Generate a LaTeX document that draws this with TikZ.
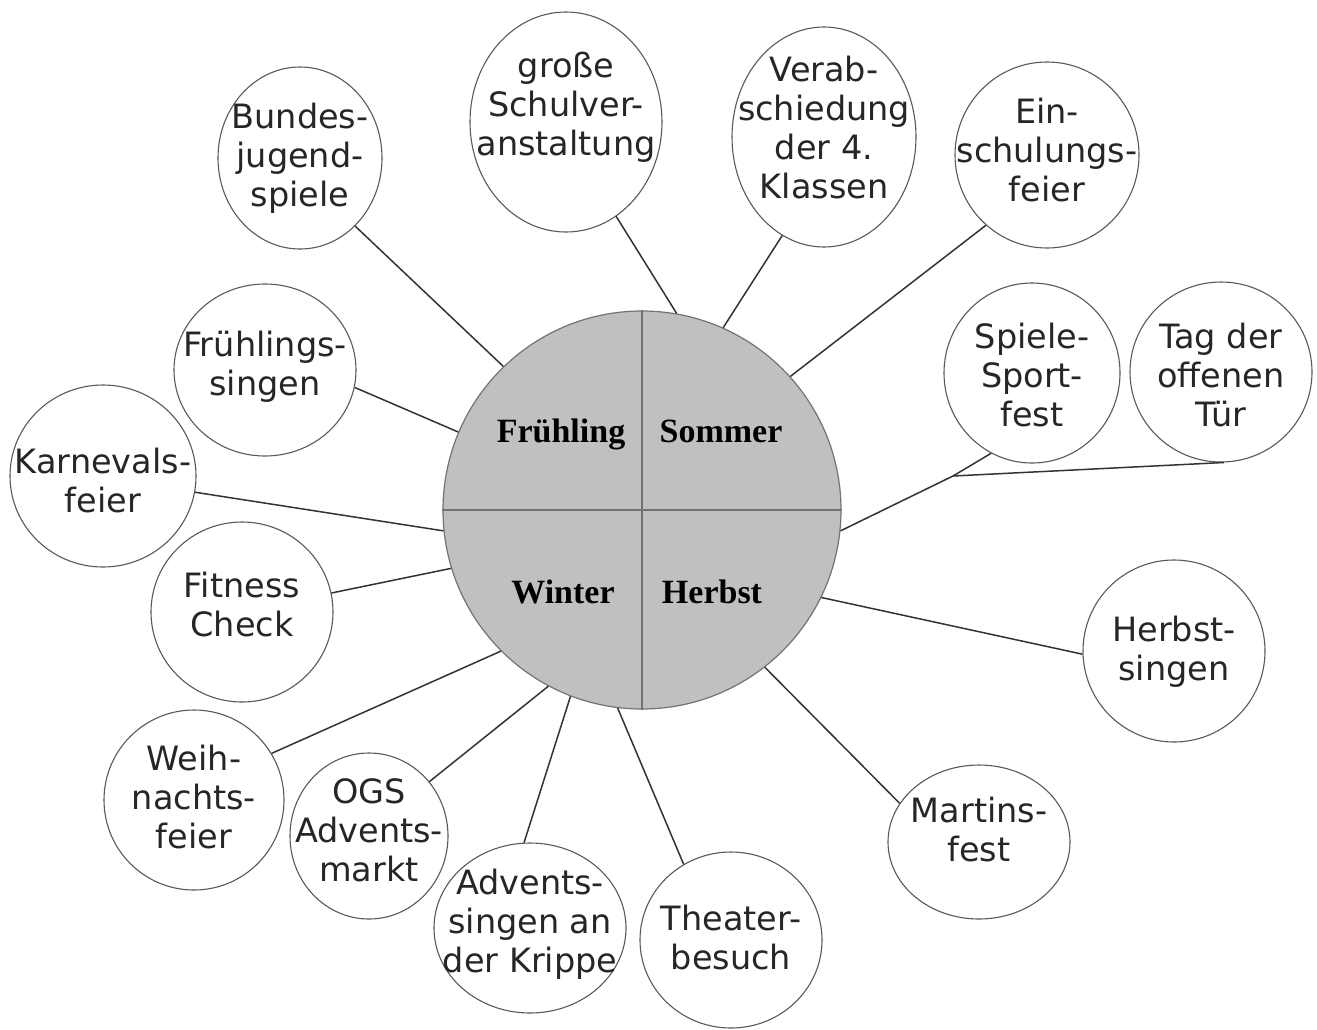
\documentclass[tikz,border=0pt]{standalone}
\usepackage{fontspec}
\usetikzlibrary{shapes.geometric}
\newfontfamily\bubfont{DejaVu Sans}
\newfontfamily\seasfont{Liberation Serif}
\definecolor{seasgray}{RGB}{192,192,192}
% text of a bubble: a box of no size, so the ellipse keeps its own size
\newcommand{\bubtxt}[2][0pt]{\makebox[0pt]{\raisebox{\dimexpr #1-8pt\relax}[0pt][0pt]{\begin{tabular}{@{}c@{}}#2\end{tabular}}}}
\tikzset{
  bubble/.style 2 args={ellipse, draw=black!65, line width=1.1pt, inner sep=0pt,
    minimum width=#1, minimum height=#2, text=black!85,
    font=\bubfont\fontsize{33.5}{39}\selectfont},
  seas/.style={anchor=base, text=black, font=\seasfont\bfseries\fontsize{34}{40}\selectfont},
  link/.style={draw=black!80, line width=1.5pt},
  quarter/.style={draw=black!55, line width=1.5pt}
}
\begin{document}
\begin{tikzpicture}[x=1pt,y=-1pt]
\path[use as bounding box, fill=white] (0,0) rectangle (1317,1029);

% middle: the four seasons
\node[circle, draw=black!55, line width=1.2pt, fill=seasgray, minimum size=398pt, inner sep=0pt] (season) at (642,510) {};
\draw[quarter] (season.north) -- (season.south);
\draw[quarter] (season.west) -- (season.east);
\node[seas] (fr) at (561,442) {Frühling};
\node[seas] (so) at (721,442) {Sommer};
\node[seas] (wi) at (563,603) {Winter};
\node[seas] (he) at (712,603) {Herbst};

% events
\node[bubble={164pt}{182pt}] (bundes) at (300,158) {\bubtxt{Bundes-\\jugend-\\spiele}};
\node[bubble={192pt}{220pt}] (gross) at (566,122) {\bubtxt[15pt]{große\\Schulver-\\anstaltung}};
\node[bubble={184pt}{220pt}] (verab) at (824,137) {\bubtxt[7pt]{Verab-\\schiedung\\der 4.\\Klassen}};
\node[bubble={184pt}{186pt}] (einsch) at (1047,155) {\bubtxt[2pt]{Ein-\\schulungs-\\feier}};
\node[bubble={182pt}{172pt}] (fruehs) at (265,370) {\bubtxt[4pt]{Frühlings-\\singen}};
\node[bubble={176pt}{180pt}] (spiele) at (1032,373) {\bubtxt[-5pt]{Spiele-\\Sport-\\fest}};
\node[bubble={182pt}{180pt}] (tag) at (1221,372) {\bubtxt[-6pt]{Tag der\\offenen\\Tür}};
\node[bubble={186pt}{182pt}] (karneval) at (103,476) {\bubtxt[-7pt]{Karnevals-\\feier}};
\node[bubble={182pt}{180pt}] (fitness) at (242,612) {\bubtxt[5pt]{Fitness\\Check}};
\node[bubble={182pt}{182pt}] (herbsts) at (1174,651) {\bubtxt{Herbst-\\singen}};
\node[bubble={180pt}{180pt}] (weih) at (194,800) {\bubtxt{Weih-\\nachts-\\feier}};
\node[bubble={158pt}{166pt}] (ogs) at (369,836) {\bubtxt[3pt]{OGS\\Advents-\\markt}};
\node[bubble={192pt}{170pt}] (advent) at (530,928) {\bubtxt[4pt]{Advents-\\singen an\\der Krippe}};
\node[bubble={182pt}{176pt}] (theater) at (731,940) {\bubtxt{Theater-\\besuch}};
\node[bubble={182pt}{154pt}] (martins) at (979,842) {\bubtxt[10pt]{Martins-\\fest}};

% lines to the middle
\draw[link] (bundes.309) -- (season.134);
\draw[link] (gross.298) -- (season.80);
\draw[link] (verab.247) -- (season.66);
\draw[link] (einsch.229) -- (season.42);
\draw[link] (fruehs.349) -- (season.157);
\draw[link] (karneval.350) -- (season.186);
\draw[link] (fitness.12) -- (season.197);
\draw[link] (weih.31) -- (season.225);
\draw[link] (ogs.42) -- (season.242);
\draw[link] (advent.94) -- (season.249);
\draw[link] (theater.122) -- (season.263);
\draw[link] (martins.154) -- (season.308);
\draw[link] (herbsts.182) -- (season.334);
\coordinate (hub) at (953,476);
\draw[link] (season.354) -- (hub) -- (spiele.243);
\draw[link] (hub) -- (tag.272);

\end{tikzpicture}
\end{document}
